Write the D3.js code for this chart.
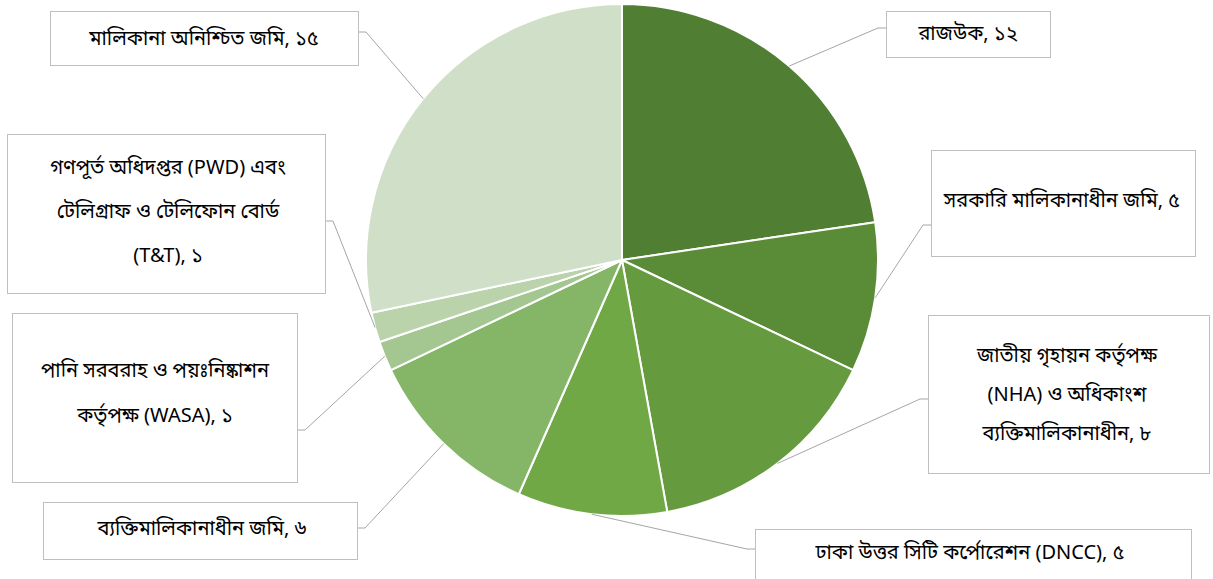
<!DOCTYPE html>
<html>
<head>
<meta charset="utf-8">
<script src="https://cdn.jsdelivr.net/npm/d3@7"></script>
<style>
  html, body { margin: 0; padding: 0; background: #fff; }
  svg { display: block; }
  text { font-family: "Noto Sans Bengali", "Nirmala UI", "Noto Sans", sans-serif; fill: #000; }
</style>
</head>
<body>
<svg id="chart" width="1213" height="579"></svg>
<script>
// data, clockwise from 12 o'clock
const categories = [
  "রাজউক",
  "সরকারি মালিকানাধীন জমি",
  "জাতীয় গৃহায়ন কর্তৃপক্ষ (NHA) ও অধিকাংশ ব্যক্তিমালিকানাধীন",
  "ঢাকা উত্তর সিটি কর্পোরেশন (DNCC)",
  "ব্যক্তিমালিকানাধীন জমি",
  "পানি সরবরাহ ও পয়ঃনিষ্কাশন কর্তৃপক্ষ (WASA)",
  "গণপূর্ত অধিদপ্তর (PWD) এবং টেলিগ্রাফ ও টেলিফোন বোর্ড (T&T)",
  "মালিকানা অনিশ্চিত জমি"
];
const values = [12, 5, 8, 5, 6, 1, 1, 15];
const valueLabels = ["১২", "৫", "৮", "৫", "৬", "১", "১", "১৫"];
const colors = ["#507e32", "#5a8b37", "#659b3e", "#70a845", "#85b668", "#a4c792", "#bad3ab", "#d0dfc8"];

// label box layout (how the callouts are wrapped and placed)
const labelLines = [
  ["রাজউক, ১২"],
  ["সরকারি মালিকানাধীন জমি, ৫"],
  ["জাতীয় গৃহায়ন কর্তৃপক্ষ", "(NHA) ও অধিকাংশ", "ব্যক্তিমালিকানাধীন, ৮"],
  ["ঢাকা উত্তর সিটি কর্পোরেশন (DNCC), ৫"],
  ["ব্যক্তিমালিকানাধীন জমি, ৬"],
  ["পানি সরবরাহ ও পয়ঃনিষ্কাশন", "কর্তৃপক্ষ (WASA), ১"],
  ["গণপূর্ত অধিদপ্তর (PWD) এবং", "টেলিগ্রাফ ও টেলিফোন বোর্ড", "(T&T), ১"],
  ["মালিকানা অনিশ্চিত জমি, ১৫"]
];
const boxes = [
  { x: 886, y: 11, w: 164, h: 46, side: "left",  ay: 28,  tx: 968,  ty: 33,  lh: 40 },
  { x: 931, y: 150, w: 264, h: 106, side: "left", ay: 225, tx: 1062, ty: 200, lh: 40 },
  { x: 928, y: 315, w: 281, h: 158, side: "left", ay: 399, tx: 1067, ty: 355, lh: 39 },
  { x: 755, y: 529, w: 436, h: 50, side: "left",  ay: 549, tx: 970,  ty: 552, lh: 40 },
  { x: 43, y: 502, w: 314, h: 57, side: "right",  ay: 528, tx: 202,  ty: 528, lh: 40 },
  { x: 12, y: 313, w: 285, h: 169, side: "right", ay: 430, tx: 155,  ty: 370, lh: 45 },
  { x: 7, y: 134, w: 318, h: 159, side: "right",  ay: 221, tx: 168,  ty: 167, lh: 44 },
  { x: 50, y: 11, w: 308, h: 54, side: "right",   ay: 32,  tx: 204,  ty: 38,  lh: 40 }
];

const cx = 622, cy = 260, radius = 256;
const svg = d3.select("#chart");

const pie = d3.pie().sort(null).value(d => d)(values);
const arc = d3.arc().innerRadius(0).outerRadius(radius);

const g = svg.append("g").attr("transform", `translate(${cx},${cy})`);

// leader lines first, under the pie
const leaders = svg.append("g")
  .attr("fill", "none")
  .attr("stroke", "#a6a6a6")
  .attr("stroke-width", 1);

pie.forEach((p, i) => {
  const b = boxes[i];
  const mid = (p.startAngle + p.endAngle) / 2;
  const ex = cx + radius * Math.sin(mid);
  const ey = cy - radius * Math.cos(mid);
  const bx = b.side === "left" ? b.x : b.x + b.w;
  const sx = b.side === "left" ? bx - 8 : bx + 8;
  leaders.append("polyline")
    .attr("points", [[ex, ey], [sx, b.ay], [bx, b.ay]].map(q => q.join(",")).join(" "));
});

g.selectAll("path")
  .data(pie)
  .join("path")
  .attr("d", arc)
  .attr("fill", (d, i) => colors[i])
  .attr("stroke", "#fff")
  .attr("stroke-width", 2)
  .attr("stroke-linejoin", "round");

// label boxes
const lab = svg.append("g").selectAll("g")
  .data(boxes)
  .join("g");

lab.append("rect")
  .attr("x", d => d.x + 0.5)
  .attr("y", d => d.y + 0.5)
  .attr("width", d => d.w)
  .attr("height", d => d.h)
  .attr("fill", "#fff")
  .attr("stroke", "#bfbfbf")
  .attr("stroke-width", 1);

lab.each(function(d, i) {
  const t = d3.select(this).append("text")
    .attr("text-anchor", "middle")
    .attr("font-size", 20);
  labelLines[i].forEach((line, k) => {
    t.append("tspan")
      .attr("x", d.tx)
      .attr("y", d.ty + k * d.lh)
      .attr("dy", "0.35em")
      .text(line);
  });
});
</script>
</body>
</html>
